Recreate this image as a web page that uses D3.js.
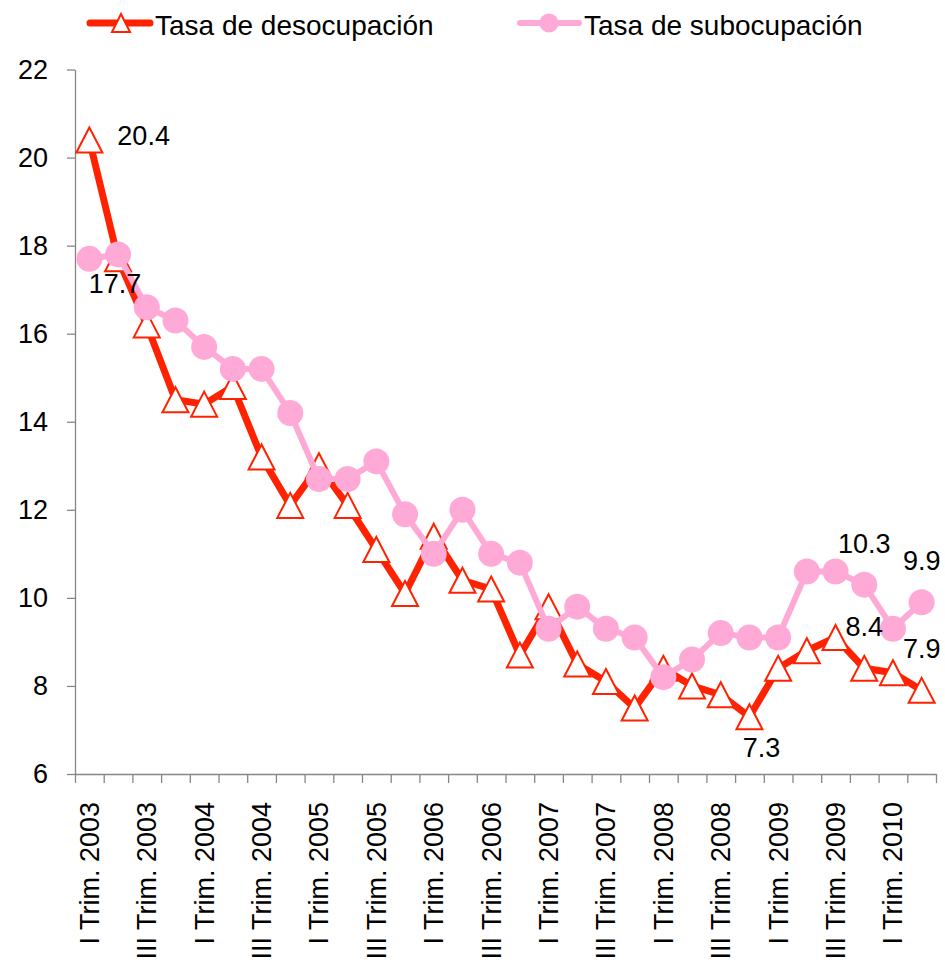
<!DOCTYPE html>
<html>
<head>
<meta charset="utf-8">
<script src="https://cdn.jsdelivr.net/npm/d3@7/dist/d3.min.js"></script>
<style>
  body { margin: 0; background: #ffffff; }
  text { font-family: "Liberation Sans", Arial, sans-serif; fill: #000000; }
</style>
</head>
<body>
<div id="viz"></div>
<script>
// quarterly categories (I Trim. 2003 .. II Trim. 2010)
var categories = [
  "I Trim. 2003", "II Trim. 2003", "III Trim. 2003", "IV Trim. 2003",
  "I Trim. 2004", "II Trim. 2004", "III Trim. 2004", "IV Trim. 2004",
  "I Trim. 2005", "II Trim. 2005", "III Trim. 2005", "IV Trim. 2005",
  "I Trim. 2006", "II Trim. 2006", "III Trim. 2006", "IV Trim. 2006",
  "I Trim. 2007", "II Trim. 2007", "III Trim. 2007", "IV Trim. 2007",
  "I Trim. 2008", "II Trim. 2008", "III Trim. 2008", "IV Trim. 2008",
  "I Trim. 2009", "II Trim. 2009", "III Trim. 2009", "IV Trim. 2009",
  "I Trim. 2010", "II Trim. 2010"
];

var desocupacion = [
  20.4, 17.7, 16.2, 14.5, 14.4, 14.8, 13.2, 12.1,
  13.0, 12.1, 11.1, 10.1, 11.4, 10.4, 10.2, 8.7,
  9.8, 8.5, 8.1, 7.5, 8.4, 8.0, 7.8, 7.3,
  8.4, 8.8, 9.1, 8.4, 8.3, 7.9
];

var subocupacion = [
  17.7, 17.8, 16.6, 16.3, 15.7, 15.2, 15.2, 14.2,
  12.7, 12.7, 13.1, 11.9, 11.0, 12.0, 11.0, 10.8,
  9.3, 9.8, 9.3, 9.1, 8.2, 8.6, 9.2, 9.1,
  9.1, 10.6, 10.6, 10.3, 9.3, 9.9
];

var seriesNames = ["Tasa de desocupación", "Tasa de subocupación"];
var yTicks = [6, 8, 10, 12, 14, 16, 18, 20, 22];

// which points carry a value label, and where it sits
var desocLabels = [
  { i: 0, pos: "right" },
  { i: 1, pos: "below" },
  { i: 23, pos: "below2" },
  { i: 27, pos: "above" },
  { i: 29, pos: "above" }
];
var subocLabels = [
  { i: 27, pos: "above" },
  { i: 29, pos: "above" }
];

// set the dimensions of the graph
var w = 945;
var h = 967;
var plotLeft = 75, plotRight = 936, plotTop = 69.5, plotBottom = 774;

var red = "#ff2200";
var pink = "#ffaad6";
var axisColor = "#868686";
var fontSize = 27;

var svg = d3.select("div#viz")
  .append("svg")
  .attr("width", w)
  .attr("height", h);

var x = d3.scaleBand().domain(categories).range([plotLeft, plotRight]).padding(0);
var xIdx = d3.scaleLinear().domain([0, categories.length]).range([plotLeft, plotRight]);
var y = d3.scaleLinear().domain([6, 22]).range([plotBottom, plotTop]);

function cx(i) { return x(categories[i]) + x.bandwidth() / 2; }

// y axis
var yAxis = svg.append("g")
  .attr("transform", "translate(" + plotLeft + ",0)")
  .call(d3.axisLeft(y).tickValues(yTicks).tickSize(8).tickSizeOuter(0).tickPadding(19));
yAxis.select(".domain").attr("stroke", axisColor).attr("stroke-width", 1.3);
yAxis.selectAll(".tick line").attr("stroke", axisColor).attr("stroke-width", 1.3);
yAxis.selectAll(".tick text").style("font-size", fontSize + "px").attr("fill", "#000");

// x axis: tick marks on the category boundaries
var xTickAxis = svg.append("g")
  .attr("transform", "translate(0," + plotBottom + ")")
  .call(d3.axisBottom(xIdx).tickValues(d3.range(categories.length + 1)).tickSize(9).tickSizeOuter(0).tickFormat(""));
xTickAxis.select(".domain").attr("stroke", axisColor).attr("stroke-width", 1.3);
xTickAxis.selectAll(".tick line").attr("stroke", axisColor).attr("stroke-width", 1.3);

// x axis labels, every second quarter, rotated
var labelled = categories.filter(function (d, i) { return i % 2 === 0; });
var xLabelAxis = svg.append("g")
  .attr("transform", "translate(0," + plotBottom + ")")
  .call(d3.axisBottom(x).tickValues(labelled).tickSize(0));
xLabelAxis.select(".domain").remove();
xLabelAxis.selectAll(".tick text")
  .style("font-size", fontSize + "px")
  .attr("fill", "#000")
  .attr("transform", "rotate(-90)")
  .attr("text-anchor", "end")
  .attr("x", -28)
  .attr("y", 0)
  .attr("dy", "0.35em");

// line generator
var line = d3.line()
  .x(function (d, i) { return cx(i); })
  .y(function (d) { return y(d); });

// triangle marker path
function triPath(wd, ht) {
  return "M0," + (-ht / 2) + "L" + (wd / 2) + "," + (ht / 2) + "L" + (-wd / 2) + "," + (ht / 2) + "Z";
}

// desocupacion series
svg.append("path")
  .datum(desocupacion)
  .attr("d", line)
  .attr("fill", "none")
  .attr("stroke", red)
  .attr("stroke-width", 7)
  .attr("stroke-linejoin", "round");

svg.append("g").selectAll("path")
  .data(desocupacion)
  .enter().append("path")
  .attr("d", triPath(26, 25))
  .attr("transform", function (d, i) { return "translate(" + cx(i) + "," + y(d) + ")"; })
  .attr("fill", "#ffffff")
  .attr("stroke", red)
  .attr("stroke-width", 2);

// subocupacion series
svg.append("path")
  .datum(subocupacion)
  .attr("d", line)
  .attr("fill", "none")
  .attr("stroke", pink)
  .attr("stroke-width", 6)
  .attr("stroke-linejoin", "round");

svg.append("g").selectAll("circle")
  .data(subocupacion)
  .enter().append("circle")
  .attr("cx", function (d, i) { return cx(i); })
  .attr("cy", function (d) { return y(d); })
  .attr("r", 13)
  .attr("fill", pink);

// value labels
var offsets = {
  right: { dx: 28, dy: 5, anchor: "start" },
  below: { dx: -3, dy: 34, anchor: "middle" },
  below2: { dx: 12, dy: 40, anchor: "middle" },
  above: { dx: 0, dy: -32, anchor: "middle" }
};

function addLabels(list, values) {
  svg.append("g").selectAll("text")
    .data(list)
    .enter().append("text")
    .attr("x", function (d) { return cx(d.i) + offsets[d.pos].dx; })
    .attr("y", function (d) { return y(values[d.i]) + offsets[d.pos].dy; })
    .attr("text-anchor", function (d) { return offsets[d.pos].anchor; })
    .style("font-size", fontSize + "px")
    .text(function (d) { return d3.format(".1f")(values[d.i]); });
}
addLabels(desocLabels, desocupacion);
addLabels(subocLabels, subocupacion);

// legend
var legend = svg.append("g");

var leg1 = legend.append("g").attr("transform", "translate(90,23)");
leg1.append("line").attr("x1", 0).attr("x2", 60).attr("y1", 0).attr("y2", 0)
  .attr("stroke", red).attr("stroke-width", 7).attr("stroke-linecap", "round");
leg1.append("path").attr("d", triPath(18, 18)).attr("transform", "translate(31,0)")
  .attr("fill", "#ffffff").attr("stroke", red).attr("stroke-width", 2);
leg1.append("text").attr("x", 65).attr("y", 12).style("font-size", "28px").text(seriesNames[0]);

var leg2 = legend.append("g").attr("transform", "translate(520,23)");
leg2.append("line").attr("x1", 0).attr("x2", 59).attr("y1", 0).attr("y2", 0)
  .attr("stroke", pink).attr("stroke-width", 6).attr("stroke-linecap", "round");
leg2.append("circle").attr("cx", 29).attr("cy", 0).attr("r", 9.5).attr("fill", pink);
leg2.append("text").attr("x", 64).attr("y", 12).style("font-size", "28px").text(seriesNames[1]);
</script>
</body>
</html>
